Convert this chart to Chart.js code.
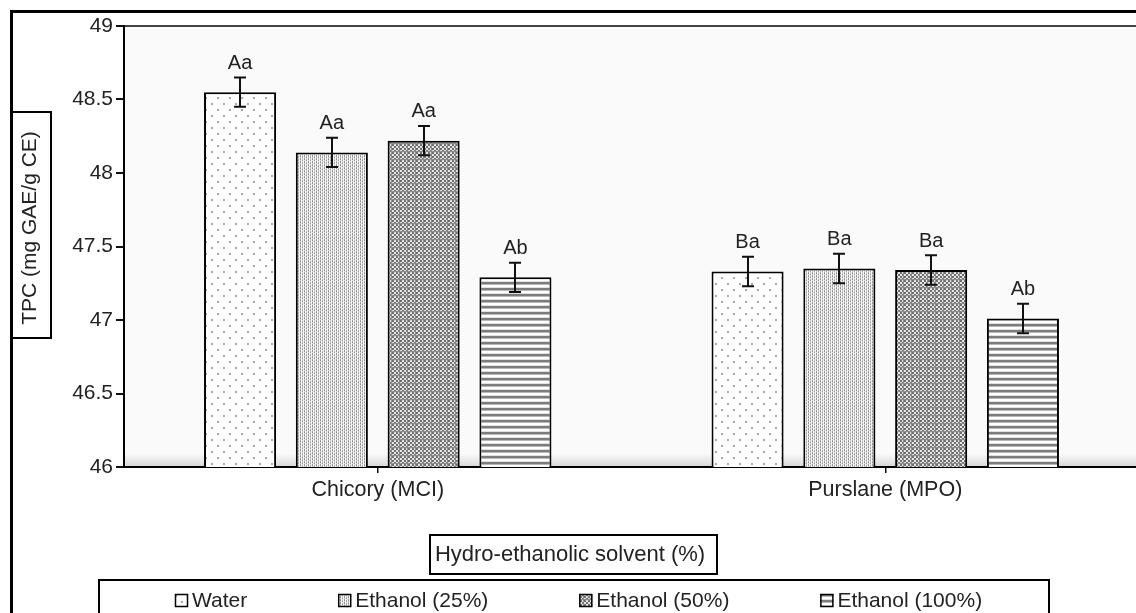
<!DOCTYPE html>
<html>
<head>
<meta charset="utf-8">
<script src="https://cdn.jsdelivr.net/npm/chart.js@4.4.1/dist/chart.umd.min.js"></script>
<style>
  html, body { margin: 0; padding: 0; background: #fff; overflow: hidden; }
  #wrap { width: 1136px; height: 613px; overflow: hidden; position: relative; }
  canvas { display: block; }
</style>
</head>
<body>
<div id="wrap"><canvas id="tpc" width="1139" height="613"></canvas></div>
<script>
// Total phenolic content by plant and hydro-ethanolic solvent
const plants = ['Chicory (MCI)', 'Purslane (MPO)'];
const solvents = ['Water', 'Ethanol (25%)', 'Ethanol (50%)', 'Ethanol (100%)'];

const water      = [48.55, 47.33];
const ethanol25  = [48.14, 47.35];
const ethanol50  = [48.22, 47.34];
const ethanol100 = [47.29, 47.01];

const waterSd      = [0.10, 0.10];
const ethanol25Sd  = [0.10, 0.10];
const ethanol50Sd  = [0.10, 0.10];
const ethanol100Sd = [0.10, 0.10];

const waterLetters      = ['Aa', 'Ba'];
const ethanol25Letters  = ['Aa', 'Ba'];
const ethanol50Letters  = ['Aa', 'Ba'];
const ethanol100Letters = ['Ab', 'Ab'];

const yMin = 46, yMax = 49, yStep = 0.5;
const yTitle = 'TPC (mg GAE/g CE)';
const legendTitle = 'Hydro-ethanolic solvent (%)';

const FONT = '"Liberation Sans", Arial, Helvetica, sans-serif';
Chart.defaults.font.family = FONT;

// ---- fill patterns built from small pixel tiles ----
function tilePattern(w, h, pix) {
  const c = document.createElement('canvas');
  c.width = w; c.height = h;
  const g = c.getContext('2d');
  const img = g.createImageData(w, h);
  for (let y = 0; y < h; y++) {
    for (let x = 0; x < w; x++) {
      const v = pix(x, y);
      const i = (y * w + x) * 4;
      img.data[i] = img.data[i + 1] = img.data[i + 2] = v;
      img.data[i + 3] = 255;
    }
  }
  g.putImageData(img, 0, 0);
  return g.createPattern(c, 'repeat');
}

// sparse dots
const dotsFill = tilePattern(12, 12, (x, y) =>
  ((x === 1 || x === 2) && (y === 1 || y === 2)) || ((x === 7 || x === 8) && (y === 7 || y === 8)) ? 170 : 255);
// fine vertical stipple
const stippleFill = tilePattern(4, 3, (x, y) => {
  const t = [[140, 208, 160], [255, 235, 255], [180, 156, 216], [244, 255, 240]];
  return t[x][y];
});
// woven check
const checkFill = tilePattern(8, 8, (x, y) => {
  if (x % 8 === 7 || y % 8 === 7) return 140;
  return (((x >> 1) + (y >> 1)) % 2) ? 228 : 112;
});
// horizontal stripes
const stripeFill = tilePattern(2, 6, (x, y) => [124, 124, 184, 255, 255, 224][y]);

const series = [
  { label: solvents[0], data: water,      sd: waterSd,      letters: waterLetters,      backgroundColor: dotsFill },
  { label: solvents[1], data: ethanol25,  sd: ethanol25Sd,  letters: ethanol25Letters,  backgroundColor: stippleFill },
  { label: solvents[2], data: ethanol50,  sd: ethanol50Sd,  letters: ethanol50Letters,  backgroundColor: checkFill },
  { label: solvents[3], data: ethanol100, sd: ethanol100Sd, letters: ethanol100Letters, backgroundColor: stripeFill }
].map(s => Object.assign(s, {
  borderColor: '#000', borderWidth: 2, borderSkipped: false,
  categoryPercentage: 0.7235, barPercentage: 0.785
}));

const decor = {
  id: 'decor',
  beforeDraw(chart) {
    const { ctx, chartArea: a } = chart;
    ctx.save();
    ctx.fillStyle = '#fff';
    ctx.fillRect(0, 0, chart.width, chart.height);
    ctx.fillStyle = '#fafafa';
    ctx.fillRect(a.left, a.top, a.right - a.left, a.bottom - a.top);
    const g = ctx.createLinearGradient(0, a.bottom - 14, 0, a.bottom);
    g.addColorStop(0, 'rgba(222,222,222,0)');
    g.addColorStop(1, 'rgba(214,214,214,1)');
    ctx.fillStyle = g;
    ctx.fillRect(a.left, a.bottom - 14, a.right - a.left, 14);
    ctx.fillStyle = '#444';
    ctx.fillRect(a.left, a.top - 1, a.right - a.left, 2);
    ctx.restore();
  },
  afterDatasetsDraw(chart) {
    const { ctx } = chart;
    const ys = chart.scales.y;
    ctx.save();
    ctx.strokeStyle = '#111';
    ctx.lineWidth = 2;
    ctx.fillStyle = '#222';
    ctx.font = '20px ' + FONT;
    ctx.textAlign = 'center';
    ctx.textBaseline = 'alphabetic';
    chart.data.datasets.forEach((ds, di) => {
      chart.getDatasetMeta(di).data.forEach((bar, i) => {
        const v = ds.data[i], e = ds.sd[i];
        const yt = ys.getPixelForValue(v + e), yb = ys.getPixelForValue(v - e);
        const x = Math.round(bar.x);
        ctx.beginPath();
        ctx.moveTo(x, yt); ctx.lineTo(x, yb);
        ctx.moveTo(x - 6, yt); ctx.lineTo(x + 6, yt);
        ctx.moveTo(x - 6, yb); ctx.lineTo(x + 6, yb);
        ctx.stroke();
        ctx.fillText(ds.letters[i], bar.x, yt - 8.5);
      });
    });
    ctx.restore();
  },
  afterDraw(chart) {
    const { ctx } = chart;
    ctx.save();
    // outer frame
    ctx.fillStyle = '#000';
    ctx.fillRect(10, 10, chart.width, 3);
    ctx.fillRect(10, 10, 3, chart.height);

    // y axis title in its box
    ctx.fillStyle = '#fff';
    ctx.fillRect(12, 112, 39, 226);
    ctx.strokeStyle = '#000';
    ctx.lineWidth = 2;
    ctx.strokeRect(12, 112, 39, 226);
    ctx.save();
    ctx.translate(30, 228);
    ctx.rotate(-Math.PI / 2);
    ctx.fillStyle = '#222';
    ctx.font = '21px ' + FONT;
    ctx.textAlign = 'center';
    ctx.textBaseline = 'middle';
    ctx.fillText(yTitle, 0, 0);
    ctx.restore();

    // legend title box
    ctx.lineWidth = 2;
    ctx.strokeRect(430, 535, 287, 39);
    ctx.fillStyle = '#222';
    ctx.font = '22px ' + FONT;
    ctx.textAlign = 'center';
    ctx.textBaseline = 'middle';
    ctx.fillText(legendTitle, 570, 555);

    // legend box and items
    ctx.strokeRect(99, 580, 950, 60);
    ctx.font = '21px ' + FONT;
    ctx.textAlign = 'left';
    const gap = 91, icon = 13, iconGap = 4;
    const widths = chart.data.datasets.map(ds => icon + iconGap + ctx.measureText(ds.label).width);
    const total = widths.reduce((s, w) => s + w, 0) + gap * (widths.length - 1);
    let x = Math.round(579 - total / 2);
    const ly = 600;
    chart.data.datasets.forEach((ds, i) => {
      ctx.fillStyle = ds.backgroundColor;
      ctx.fillRect(x, ly - 6, icon, icon);
      ctx.lineWidth = 1.5;
      ctx.strokeStyle = '#000';
      ctx.strokeRect(x + 0.5, ly - 5.5, icon - 1, icon - 1);
      ctx.fillStyle = '#222';
      ctx.fillText(ds.label, x + icon + iconGap, ly + 1);
      x += widths[i] + gap;
    });
    ctx.restore();
  }
};

new Chart(document.getElementById('tpc'), {
  type: 'bar',
  data: { labels: plants, datasets: series },
  options: {
    responsive: false,
    animation: false,
    devicePixelRatio: 1,
    layout: { padding: { left: 0, right: 0, top: 26, bottom: 0 } },
    plugins: { legend: { display: false }, tooltip: { enabled: false } },
    scales: {
      x: {
        grid: { display: true, offset: false, drawOnChartArea: false, drawTicks: true, tickLength: 6, color: '#111', lineWidth: 1.5 },
        border: { display: true, color: '#000', width: 2 },
        ticks: { color: '#222', font: { size: 21.5 }, padding: 4 },
        afterFit(s) { s.height = 146; }
      },
      y: {
        min: yMin, max: yMax,
        ticks: {
          stepSize: yStep, color: '#222', font: { size: 21 }, padding: 3,
          callback: v => String(+v.toFixed(1))
        },
        grid: { drawOnChartArea: false, drawTicks: true, tickLength: 8, color: '#111', lineWidth: 2 },
        border: { display: true, color: '#000', width: 2 },
        afterFit(s) { s.width = 124; }
      }
    }
  },
  plugins: [decor]
});
</script>
</body>
</html>
